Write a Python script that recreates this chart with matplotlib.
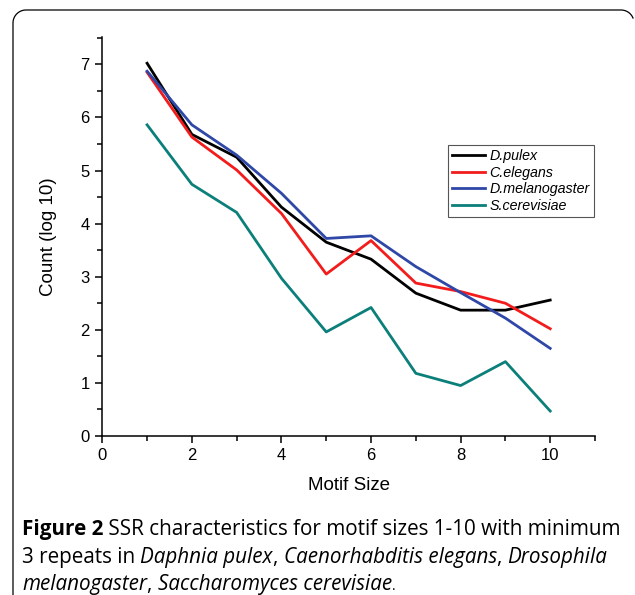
import numpy as np
import matplotlib.pyplot as plt
from matplotlib.lines import Line2D
from matplotlib.ticker import MultipleLocator

motif_size = [1, 2, 3, 4, 5, 6, 7, 8, 9, 10]
d_pulex = [7.02, 5.68, 5.25, 4.31, 3.65, 3.33, 2.69, 2.37, 2.37, 2.56]
c_elegans = [6.85, 5.63, 5.01, 4.19, 3.05, 3.68, 2.88, 2.72, 2.50, 2.02]
d_melanogaster = [6.87, 5.86, 5.29, 4.57, 3.72, 3.77, 3.19, 2.70, 2.22, 1.65]
s_cerevisiae = [5.86, 4.74, 4.21, 2.97, 1.96, 2.42, 1.18, 0.95, 1.40, 0.47]

series = [
    ("D.pulex", d_pulex, "#000000"),
    ("C.elegans", c_elegans, "#f21c1c"),
    ("D.melanogaster", d_melanogaster, "#2f47a6"),
    ("S.cerevisiae", s_cerevisiae, "#0b7f7a"),
]

W, H = 635, 595
fig = plt.figure(figsize=(W / 100, H / 100), dpi=100)

# page frame: left edge, top edge and two rounded corners, in figure fractions
r = 13
left, top, right = 13, 10, 634
t1 = np.linspace(np.pi, np.pi / 2, 20)
t2 = np.linspace(np.pi / 2, np.pi / 8, 20)
fx = np.concatenate([[left], left + r + r * np.cos(t1), right - r + r * np.cos(t2)])
fy = np.concatenate([[H + 5], top + r - r * np.sin(t1), top + r - r * np.sin(t2)])
fig.add_artist(Line2D(fx / W, 1 - fy / H, transform=fig.transFigure,
                      color="black", linewidth=0.9))

ax = fig.add_axes([102.3 / W, 1 - 436 / H, (595 - 102.3) / W, (436 - 36.7) / H])
for name, vals, color in series:
    ax.plot(motif_size, vals, color=color, linewidth=2.0, label=name)

ax.set_xlim(0, 11)
ax.set_ylim(0, 7.52)
ax.spines["top"].set_visible(False)
ax.spines["right"].set_visible(False)
for s in ("left", "bottom"):
    ax.spines[s].set_linewidth(1.1)
ax.xaxis.set_major_locator(MultipleLocator(2))
ax.xaxis.set_minor_locator(MultipleLocator(1))
ax.yaxis.set_major_locator(MultipleLocator(1))
ax.yaxis.set_minor_locator(MultipleLocator(0.5))
ax.tick_params(which="major", direction="out", length=5, width=1.1,
               labelsize=12, pad=4)
ax.tick_params(which="minor", direction="out", length=3.5, width=1.1)
for lab in ax.get_xticklabels() + ax.get_yticklabels():
    lab.set_fontfamily("Liberation Sans")

ax.set_xlabel("Motif Size", fontsize=13.5, family="Liberation Sans", labelpad=10)
ax.set_ylabel("Count (log 10)", fontsize=13.5, family="Liberation Sans", labelpad=17)

leg = ax.legend(
    loc="upper left", bbox_to_anchor=((448 - 102.3) / (595 - 102.3), (436 - 145) / (436 - 36.7)),
    prop={"family": "Liberation Sans", "style": "italic", "size": 10.3},
    frameon=True, fancybox=False, edgecolor="#555555", framealpha=1,
    handlelength=2.3, handletextpad=0.3, labelspacing=0.18,
    borderpad=0.3, borderaxespad=0,
)
leg.get_frame().set_linewidth(0.8)

# caption with mixed bold / italic runs, placed run after run on one baseline
cap_family = "Open Sans"
cap_size = 14.9
lines = [
    [("Figure 2", "bold", "normal"),
     (" SSR characteristics for motif sizes 1-10 with minimum", "normal", "normal")],
    [("3 repeats in ", "normal", "normal"), ("Daphnia pulex", "normal", "italic"),
     (", ", "normal", "normal"), ("Caenorhabditis elegans", "normal", "italic"),
     (", ", "normal", "normal"), ("Drosophila", "normal", "italic")],
    [("melanogaster", "normal", "italic"), (", ", "normal", "normal"),
     ("Saccharomyces cerevisiae", "normal", "italic"), (".", "normal", "normal")],
]
baselines = [535, 563, 590]
renderer = fig.canvas.get_renderer()
for runs, base in zip(lines, baselines):
    x_px = 22
    for txt, weight, style in runs:
        size = cap_size if txt != "." else 10
        t = fig.text(x_px / W, 1 - base / H, txt, ha="left", va="baseline",
                     family=cap_family, size=size, weight=weight, style=style)
        x_px = t.get_window_extent(renderer).x1

fig.savefig("out.png", dpi=100)
